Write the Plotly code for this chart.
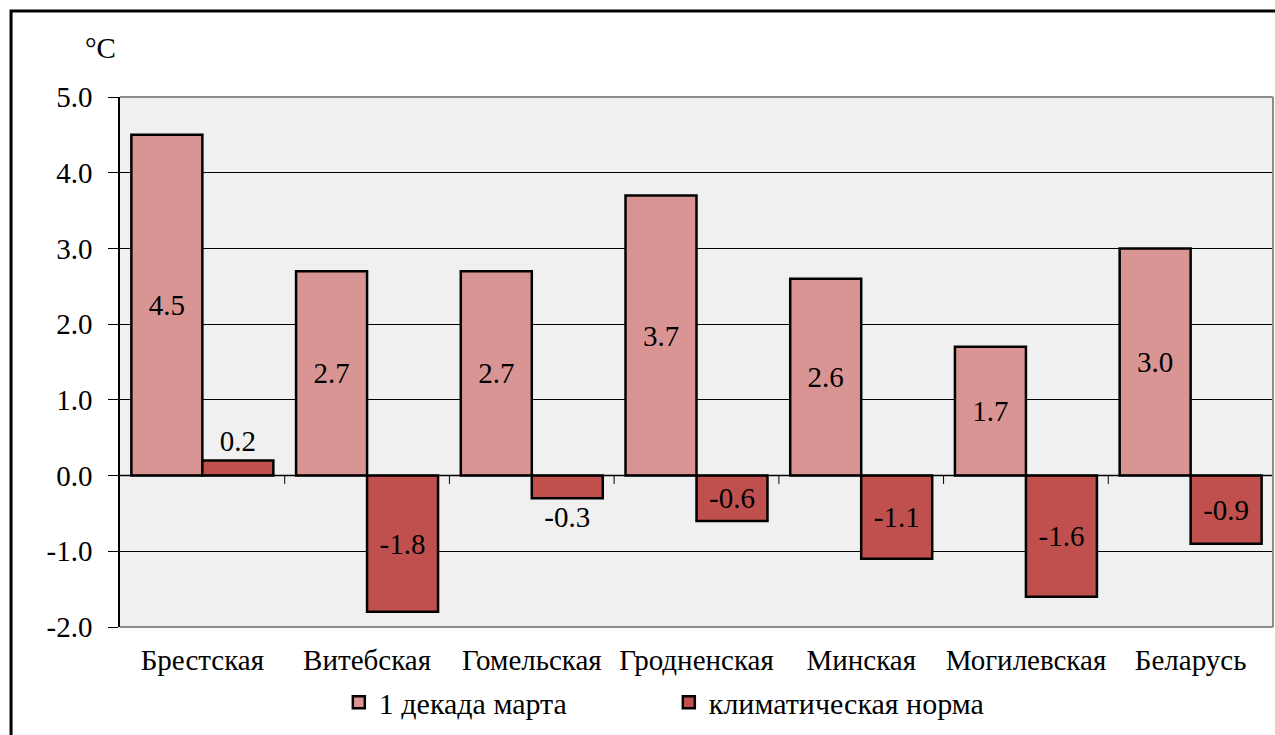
import plotly.graph_objects as go

categories = ["Брестская", "Витебская", "Гомельская", "Гродненская", "Минская", "Могилевская", "Беларусь"]
decade_values = [4.5, 2.7, 2.7, 3.7, 2.6, 1.7, 3.0]
norm_values = [0.2, -1.8, -0.3, -0.6, -1.1, -1.6, -0.9]
series_names = ["1 декада марта", "климатическая норма"]
y_ticks = [-2, -1, 0, 1, 2, 3, 4, 5]

FONT = "Times New Roman"
FS = 29

fig = go.Figure()
fig.add_trace(go.Bar(
    x=categories, y=decade_values, name=series_names[0],
    marker=dict(color="#D99594", line=dict(color="black", width=2.5)),
    text=[f"{v:.1f}" for v in decade_values],
    textposition="inside", insidetextanchor="middle",
    textfont=dict(family=FONT, size=FS, color="black"),
))
norm_pos = ["outside" if abs(v) < 0.5 else "inside" for v in norm_values]
fig.add_trace(go.Bar(
    x=categories, y=norm_values, name=series_names[1],
    marker=dict(color="#C0504D", line=dict(color="black", width=2.5)),
    text=[f"{v:.1f}" for v in norm_values],
    textposition=norm_pos, insidetextanchor="middle",
    textfont=dict(family=FONT, size=FS, color="black"),
    cliponaxis=False,
))

shapes = []
# category boundary ticks on zero line
for i in range(len(categories) - 1):
    shapes.append(dict(type="line", xref="x", yref="y", x0=i + 0.5, x1=i + 0.5, y0=0, y1=-0.11,
                       line=dict(color="black", width=1)))
# zero line
shapes.append(dict(type="line", xref="paper", yref="y", x0=0, x1=1, y0=0, y1=0,
                   line=dict(color="black", width=1.5)))
# plot border (gray) top/right/bottom
for (x0, y0, x1, y1) in [(0, 1, 1, 1), (1, 0, 1, 1), (0, 0, 1, 0)]:
    shapes.append(dict(type="line", xref="paper", yref="paper", x0=x0, x1=x1, y0=y0, y1=y1,
                       line=dict(color="#8C8C8C", width=2)))
# outer chart border (black)
shapes.append(dict(type="rect", xref="paper", yref="paper", x0=-0.0945, x1=1.2, y0=-0.4, y1=1.1623,
                   line=dict(color="black", width=3)))

fig.update_layout(
    width=1275, height=735,
    margin=dict(l=120, r=2, t=97, b=108),
    paper_bgcolor="white", plot_bgcolor="#F0F0F0",
    barmode="group", bargap=0.138, bargroupgap=0,
    font=dict(family=FONT, size=FS, color="black"),
    showlegend=True,
    legend=dict(orientation="h", x=0.476, xanchor="center", y=-0.093, yanchor="top",
                font=dict(family=FONT, size=30), itemwidth=30, entrywidth=285,
                bgcolor="rgba(0,0,0,0)"),
    shapes=shapes,
    annotations=[dict(text="°C", xref="paper", yref="paper", x=-0.002, y=1.092, xanchor="right",
                      yanchor="middle", showarrow=False, font=dict(family=FONT, size=29))],
)
fig.update_xaxes(showline=False, ticks="", showgrid=False, ticklabelstandoff=13,
                 tickfont=dict(family=FONT, size=FS))
fig.update_yaxes(range=[-2, 5], tickvals=y_ticks, ticktext=[f"{v:.1f}" for v in y_ticks],
                 showline=True, linecolor="black", linewidth=1.5,
                 ticks="outside", ticklen=10, tickcolor="black", ticklabelstandoff=10,
                 showgrid=True, gridcolor="black", gridwidth=1, zeroline=False,
                 tickfont=dict(family=FONT, size=FS))

fig.write_html("out.html", config={"displayModeBar": False},
               post_script="document.body.style.margin='0';")
